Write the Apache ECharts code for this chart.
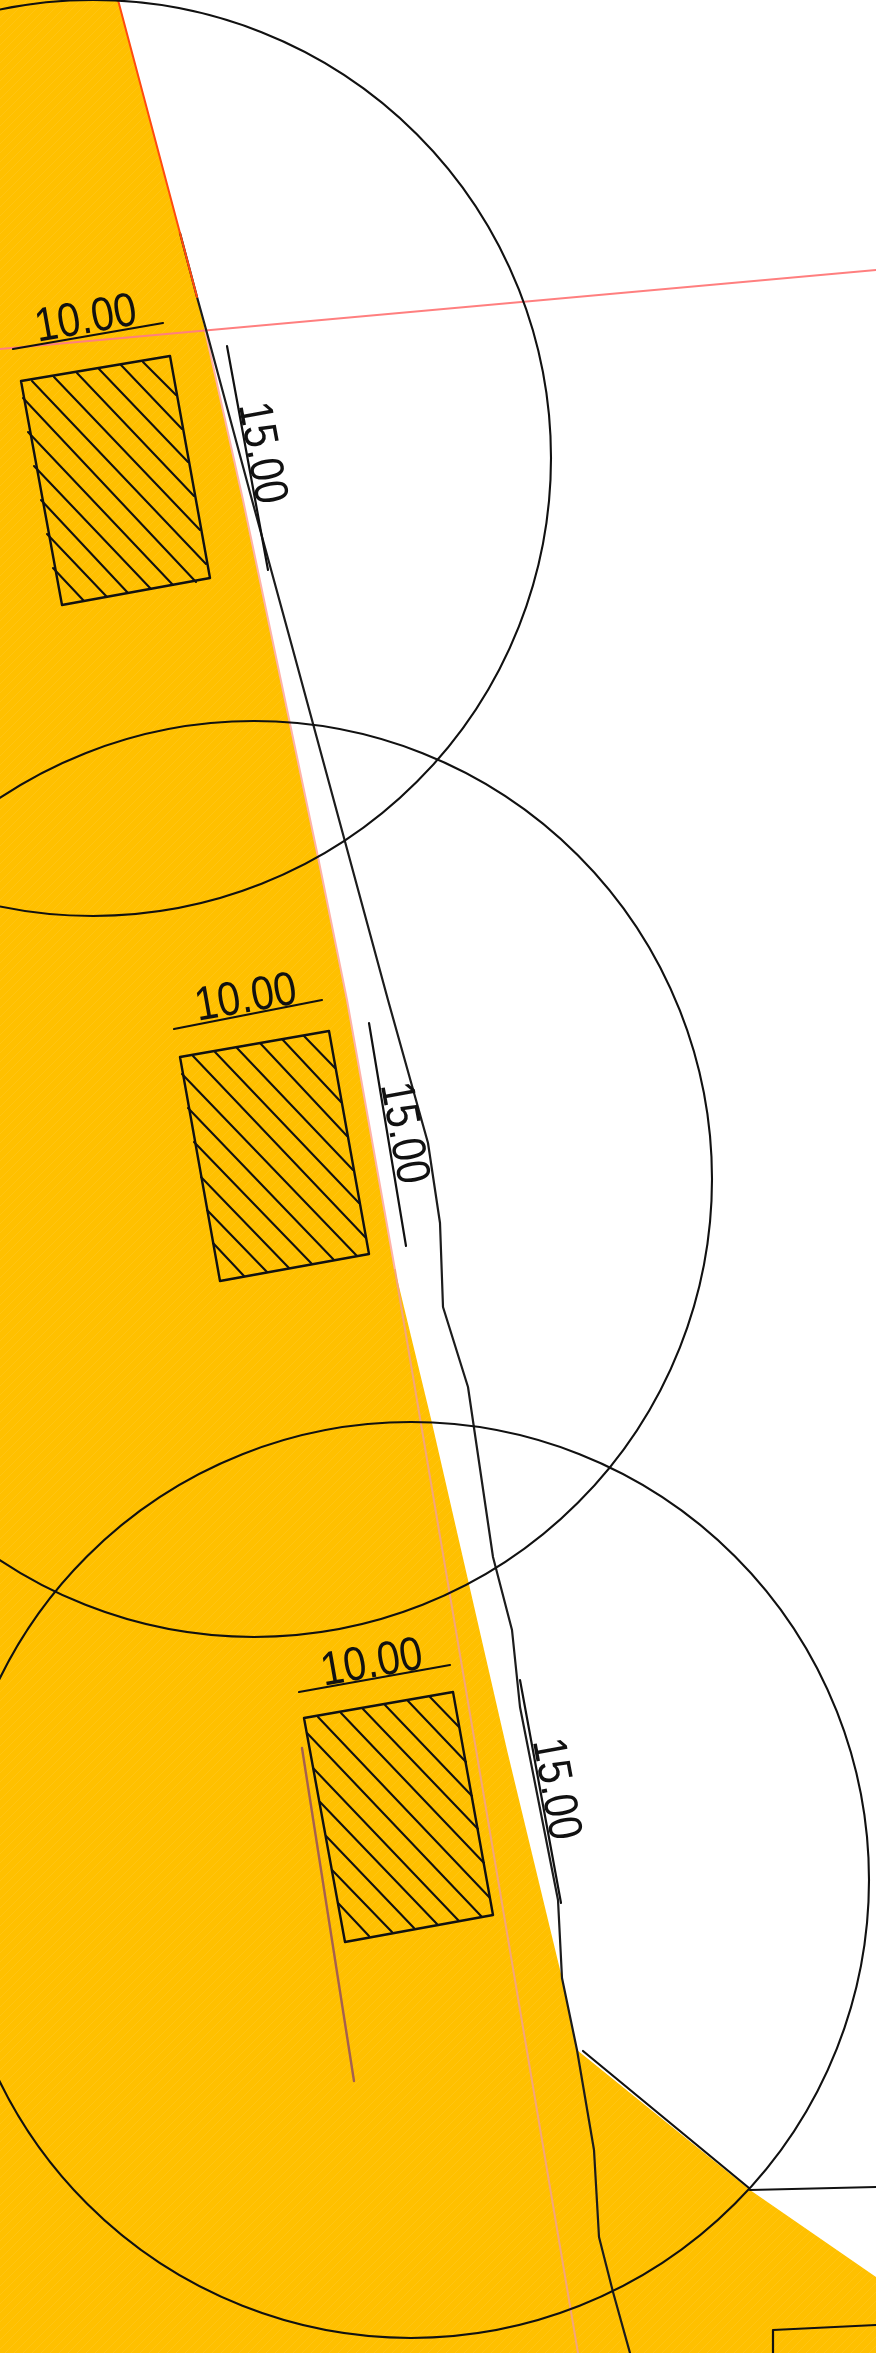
<!DOCTYPE html>
<html><head><meta charset="utf-8">
<style>html,body{margin:0;padding:0;background:#fff}#c{width:876px;height:2353px}</style>
<script src="https://cdn.jsdelivr.net/npm/echarts@6/dist/echarts.min.js"></script>
</head><body><div id="c"></div>
<script>
const plotWidth = 876, plotHeight = 2353;
const zonePolygon = [[0,0],[118,0],[197,297],[205,330],[243,500],[318,857],[347,1000],[395,1270],[432,1423],[507,1750],[562,1978],[577,2050],[750,2190],[876,2277],[876,2353],[0,2353]];
const circles = [[93,458,458],[254,1179,458],[411,1880,458]];
const boundary = [[180,233],[197,297],[207,333],[252,500],[293,650],[388,1000],[428,1143],[440,1223],[443,1307],[468,1387],[493,1557],[512,1630],[520,1707],[558,1900],[562,1978],[577,2050],[594,2150],[599,2237],[613,2292],[630,2353]];
const redEdge = [[118,0],[197,297]];
const salmonLine = [[0,349],[876,270]];
const pinkEdge = [[205,330],[243,500],[318,857],[347,1000],[395,1270]];
const pinkInner = [[395,1270],[578,2353]];
const brownLine = [[302,1748],[354,2081]];
const cornerLines = [[[583,2051],[749,2188]],[[750,2190],[876,2187]],[[773,2353],[773,2330],[876,2325]]];
const buildings = [
  [[21,381],[170,356],[210,578],[62,605],[21,381]],
  [[180,1057],[329,1031],[369,1254],[220,1281],[180,1057]],
  [[304,1718],[453,1692],[493,1915],[345,1942],[304,1718]]
];
const hatch1 = [[[143,362],[176,395]],[[121,365],[182,429]],[[99,369],[188,462]],[[77,373],[194,496]],[[54,377],[200,530]],[[32,381],[206,564]],[[23,398],[196,582]],[[28,432],[173,585]],[[34,466],[151,589]],[[41,500],[128,593]],[[47,534],[107,597]],[[53,568],[84,601]]];
const hatch2 = [[[304,1036],[335,1068]],[[282,1039],[341,1102]],[[260,1043],[347,1136]],[[237,1048],[353,1170]],[[215,1052],[359,1203]],[[193,1056],[366,1238]],[[182,1074],[357,1256]],[[188,1108],[334,1260]],[[194,1142],[312,1264]],[[201,1177],[289,1268]],[[207,1210],[267,1272]],[[213,1243],[244,1276]]];
const hatch3 = [[[430,1697],[459,1727]],[[408,1701],[466,1762]],[[385,1705],[472,1796]],[[363,1709],[478,1829]],[[341,1713],[484,1863]],[[318,1717],[490,1898]],[[307,1733],[482,1917]],[[313,1768],[459,1921]],[[320,1802],[437,1924]],[[326,1836],[414,1928]],[[332,1870],[392,1932]],[[338,1903],[369,1936]]];
const dimLines = [[[13,349],[163,323]],[[227,346],[268,570]],[[174,1029],[322,1000]],[[369,1023],[406,1246]],[[299,1692],[450,1665]],[[520,1680],[561,1903]]];
const widthLabels = [[86,320,'10.00'],[246,999,'10.00'],[372,1664,'10.00']];
const depthLabels = [[261,453,'15.00'],[403,1133,'15.00'],[555,1789,'15.00']];

const tile = document.createElement('canvas');
tile.width = tile.height = 9;
(function(){
  const g = tile.getContext('2d');
  g.fillStyle = '#FFC000'; g.fillRect(0,0,9,9);
  g.strokeStyle = 'rgba(255,214,90,0.2)'; g.lineWidth = 1;
  g.beginPath(); g.moveTo(-1,10); g.lineTo(10,-1); g.stroke();
})();

function line(points, color, width, z){
  return {type:'line', data:points, showSymbol:false, symbol:'none', silent:true, animation:false, clip:true, z:z,
    lineStyle:{color:color, width:width, cap:'round', join:'round'}};
}
function labels(data, rotDeg){
  return {type:'custom', data:data, silent:true, animation:false, z:8,
    encode:{x:0,y:1},
    renderItem:function(params, api){
      const p = api.coord([api.value(0), api.value(1)]);
      return {type:'text', x:p[0], y:p[1], rotation:rotDeg*Math.PI/180, scaleX:1, scaleY:1.16,
        style:{text:String(data[params.dataIndex][2]), fontFamily:'Liberation Sans', fontSize:41, fill:'#111',
          textAlign:'center', textVerticalAlign:'middle'}};
    }};
}
const series = [];
series.push({type:'custom', data:zonePolygon, silent:true, animation:false, z:1, clip:true, encode:{x:0,y:1},
  renderItem:function(params, api){
    if(params.dataIndex!==0) return null;
    return {type:'polygon', shape:{points:zonePolygon.map(function(d){return api.coord(d);})},
      style:{fill:{image:tile, repeat:'repeat'}, stroke:null}};
  }});
series.push(line(salmonLine,'#ff7f7f',2,3));
series.push(line(pinkEdge,'#ffb3a8',2,2));
series.push(line(pinkInner,'#f4a57c',2,2));
series.push(line(brownLine,'#a5604f',2.4,3));
series.push(line(boundary,'#1c1c1c',2.2,4));
series.push(line(redEdge,'#ff4a10',2,5));
series.push({type:'custom', data:circles, silent:true, animation:false, z:6, clip:true, encode:{x:0,y:1},
  renderItem:function(params, api){
    const p = api.coord([api.value(0), api.value(1)]);
    const r = api.size([api.value(2), 0])[0];
    return {type:'circle', shape:{cx:p[0], cy:p[1], r:r}, style:{fill:null, stroke:'#111', lineWidth:2.1}};
  }});
cornerLines.forEach(function(l){series.push(line(l,'#111',2.2,6));});
buildings.forEach(function(l){series.push(line(l,'#111',2.4,7));});
[hatch1,hatch2,hatch3].forEach(function(h){h.forEach(function(l){series.push(line(l,'#111',2.1,7));});});
dimLines.forEach(function(l){series.push(line(l,'#111',2.2,7));});
series.push(labels(widthLabels, 10));
series.push(labels(depthLabels, -79.6));

const chart = echarts.init(document.getElementById('c'), null, {renderer:'canvas'});
chart.setOption({
  animation:false, backgroundColor:'#fff',
  grid:{left:0,right:0,top:0,bottom:0,containLabel:false},
  xAxis:{type:'value',min:0,max:plotWidth,show:false},
  yAxis:{type:'value',min:0,max:plotHeight,inverse:true,show:false},
  tooltip:{show:false}, legend:{show:false},
  series:series
});
</script></body></html>
